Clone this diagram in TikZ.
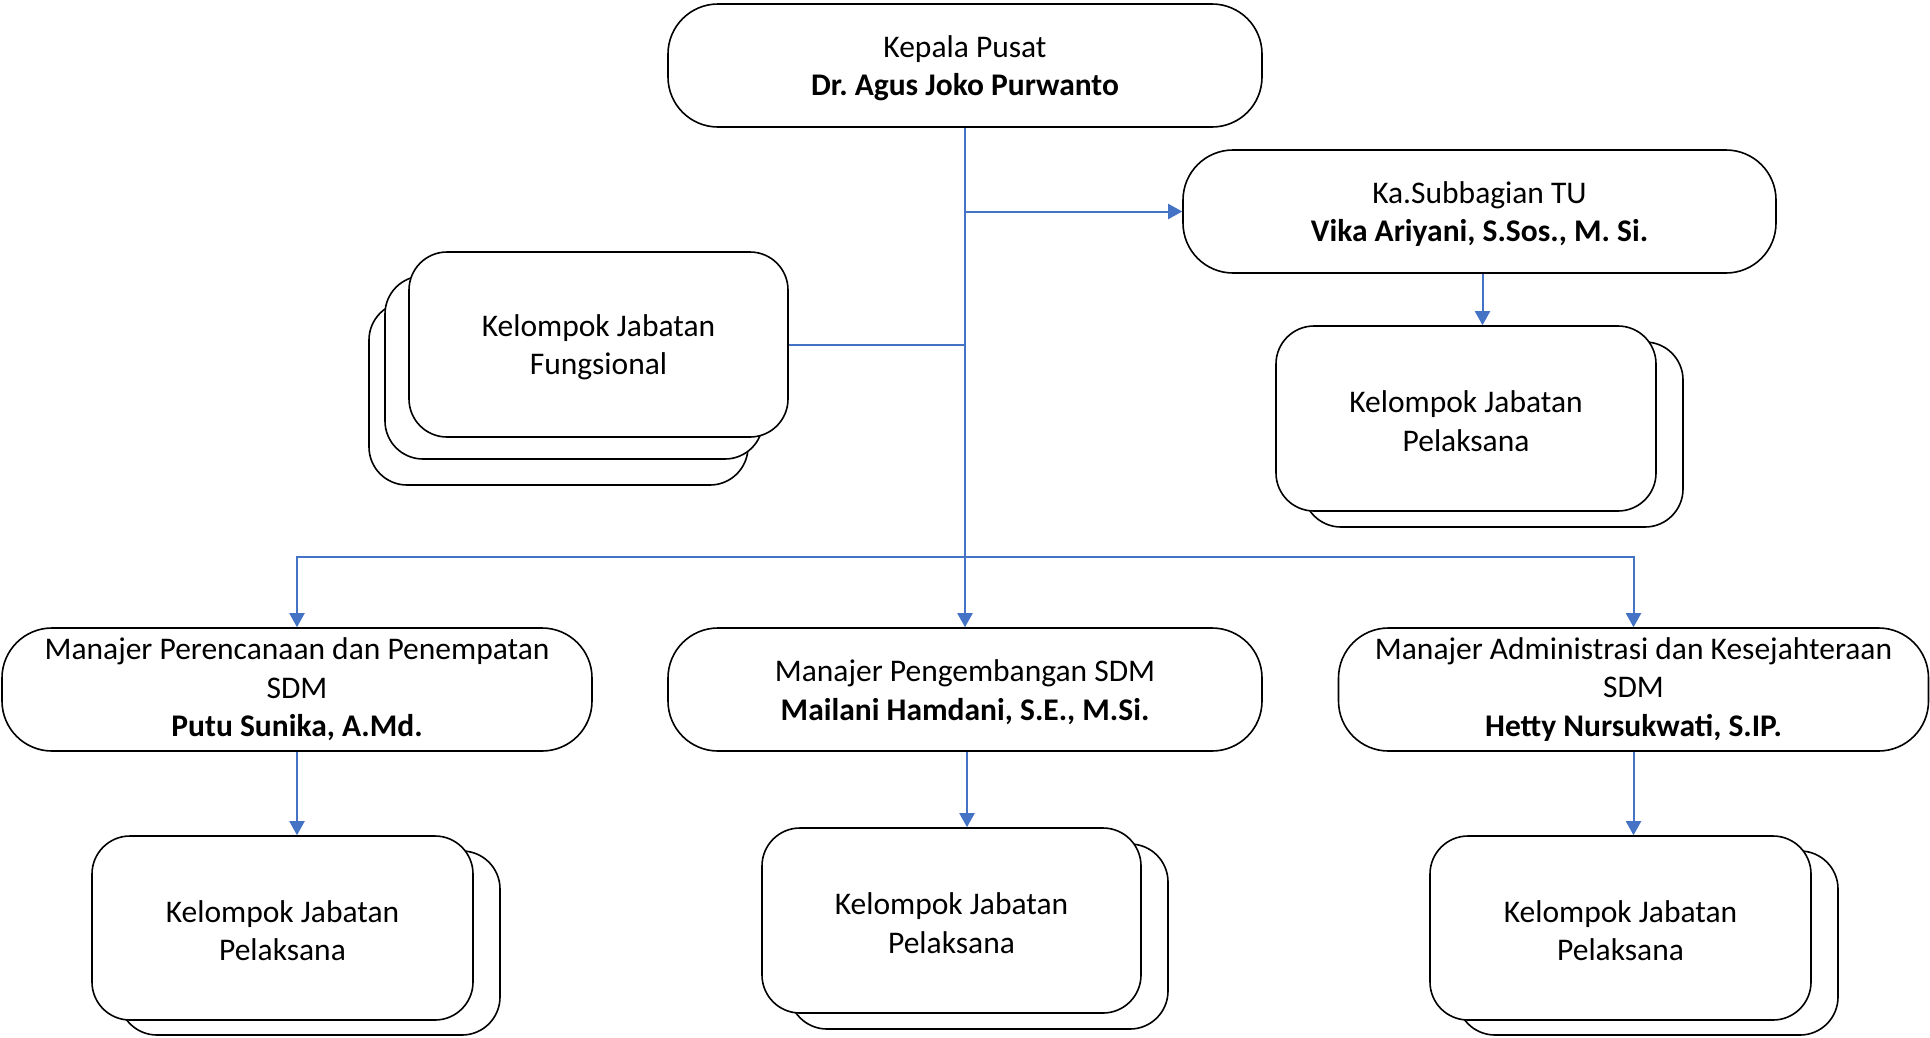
\documentclass[tikz,border=0pt]{standalone}
\usepackage{fontspec}
\setmainfont{Carlito}
\usetikzlibrary{arrows.meta}
\definecolor{conblue}{HTML}{4472C4}
\frenchspacing
\begin{document}
\begin{tikzpicture}[x=1pt,y=-1pt,
  every node/.style={font=\fontsize{31.5}{38.5}\selectfont},
  pill/.style={draw=black, line width=1.6pt, fill=white, rounded corners=50pt,
    minimum height=123pt, align=center, inner sep=0pt},
  kbox/.style={draw=black, line width=1.6pt, fill=white, rounded corners=38pt,
    align=center, inner sep=0pt},
  conn/.style={draw=conblue, line width=2pt},
  arr/.style={conn, -{Triangle[width=15pt,length=14pt]}}
]
\useasboundingbox[fill=white] (0,0) rectangle (1930,1037);

% top
\node[pill, minimum width=594pt] (top) at (965,65.5) {\strut Kepala Pusat\\\textbf{Dr. Agus Joko Purwanto}};
\node[pill, minimum width=593pt] (tu) at (1479.5,211.5) {\strut Ka.Subbagian TU\\\textbf{Vika Ariyani, S.Sos., M. Si.}};

% fungsional stack
\node[kbox, minimum width=379pt, minimum height=183pt] (f3) at (558.5,393.5) {};
\node[kbox, minimum width=378pt, minimum height=183pt] (f2) at (574,367.5) {};
\node[kbox, minimum width=379pt, minimum height=185pt] (f1) at (598.5,344.5) {\strut Kelompok Jabatan\\Fungsional};

% TU pelaksana
\node[kbox, minimum width=380pt, minimum height=185pt] (tp2) at (1493,434.5) {};
\node[kbox, minimum width=380pt, minimum height=185pt] (tp1) at (1466,418.5) {\strut Kelompok Jabatan\\Pelaksana};

% managers
\node[pill, minimum width=590pt] (m1) at (297,689.5) {Manajer Perencanaan dan Penempatan\\SDM\\\textbf{Putu Sunika, A.Md.}};
\node[pill, minimum width=594pt] (m2) at (965,689.5) {\strut Manajer Pengembangan SDM\\\textbf{Mailani Hamdani, S.E., M.Si.}};
\node[pill, minimum width=590pt] (m3) at (1633.5,689.5) {Manajer Administrasi dan Kesejahteraan\\SDM\\\textbf{Hetty Nursukwati, S.IP.}};

% bottom pelaksana stacks
\node[kbox, minimum width=381pt, minimum height=184pt] (p1b) at (309.5,943) {};
\node[kbox, minimum width=381pt, minimum height=184pt] (p1) at (282.5,928) {\strut Kelompok Jabatan\\Pelaksana};
\node[kbox, minimum width=379pt, minimum height=185pt] (p2b) at (978.5,936.5) {};
\node[kbox, minimum width=379pt, minimum height=185pt] (p2) at (951.5,920.5) {\strut Kelompok Jabatan\\Pelaksana};
\node[kbox, minimum width=381pt, minimum height=184pt] (p3b) at (1647.5,943) {};
\node[kbox, minimum width=381pt, minimum height=184pt] (p3) at (1620.5,928) {\strut Kelompok Jabatan\\Pelaksana};

% connectors
\coordinate (bus) at (965,557);
\draw[arr] (top.south) -- (m2.north);
\draw[arr] (top.south |- tu.west) -- (tu.west);
\draw[conn] (f1.east) -- (top.south |- f1.east);
\draw[arr] (bus) -| (m1.north);
\draw[arr] (bus) -| (m3.north);
\draw[arr] ([xshift=3pt]tu.south) -- ([xshift=3pt]tu.south |- tp1.north);
\draw[arr] (m1.south) -- (m1.south |- p1.north);
\draw[arr] ([xshift=2pt]m2.south) -- ([xshift=2pt]m2.south |- p2.north);
\draw[arr] (m3.south) -- (m3.south |- p3.north);
\end{tikzpicture}
\end{document}
